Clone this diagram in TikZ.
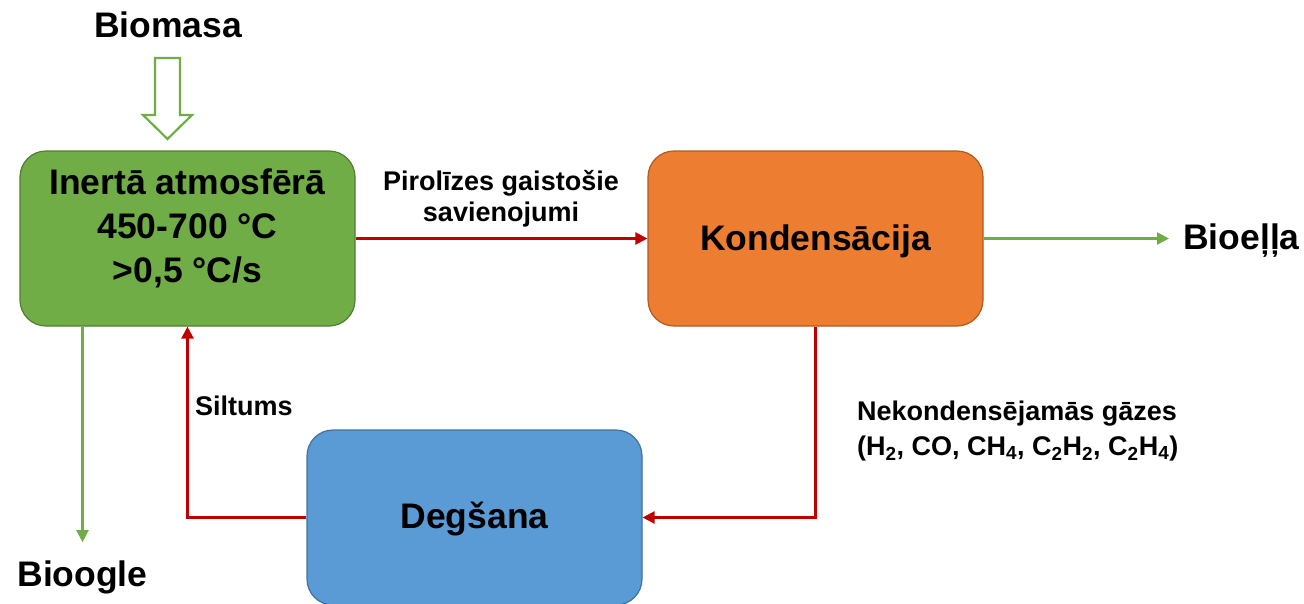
\documentclass[tikz,border=0pt]{standalone}
\usepackage{fontspec}
\setmainfont{Liberation Sans}
\usetikzlibrary{arrows.meta,calc}
\definecolor{gfill}{HTML}{70AD47}
\definecolor{gline}{HTML}{507E32}
\definecolor{ofill}{HTML}{ED7D31}
\definecolor{oline}{HTML}{AE5A21}
\definecolor{bfill}{HTML}{5B9BD5}
\definecolor{bline}{HTML}{41719C}
\definecolor{rline}{HTML}{C00000}
\begin{document}
\begin{tikzpicture}[x=1pt,y=-1pt,
  procbox/.style={draw, line width=1.2pt, rounded corners=26pt, minimum width=335pt, minimum height=175pt, inner sep=0pt},
  bigtxt/.style={font=\fontsize{35.5}{44}\selectfont\bfseries, align=center, inner sep=0pt},
  smalltxt/.style={font=\fontsize{27}{31}\selectfont\bfseries, align=center, inner sep=0pt},
  redarrow/.style={draw=rline, line width=2.4pt, -{Triangle[length=12pt,width=12pt]}},
  greenarrow/.style={draw=gfill, line width=2.4pt, -{Triangle[length=12pt,width=12pt]}}
]
\useasboundingbox (0,0) rectangle (1304,603);

% process boxes
\node[procbox, fill=gfill, draw=gline] (pyro) at (187.5,238.5) {};
\node[bigtxt] (pyrotxt) at (187.5,228) {Inertā atmosfērā\\450-700 °C\\>0,5 °C/s};
\node[procbox, fill=ofill, draw=oline] (kond) at (815.5,238.5) {};
\node[bigtxt] (kondtxt) at (815.5,241) {Kondensācija};
\node[procbox, fill=bfill, draw=bline] (degs) at (474.5,517.5) {};
\node[bigtxt] (degstxt) at (474.5,519) {Degšana};

% outside labels
\node[bigtxt] (biomasa) at (168,25) {Biomasa};
\node[bigtxt, anchor=west] (bioella) at (1183,241) {Bioeļļa};
\node[bigtxt] (bioogle) at (82.5,577) {Bioogle};
\node[smalltxt] (pirol) at (501,199) {Pirolīzes gaistošie\\savienojumi};
\node[smalltxt, anchor=west, align=left, font=\fontsize{27}{35}\selectfont\bfseries] (nekond) at (857,431) {Nekondensējamās gāzes\\(H\textsubscript{2}, CO, CH\textsubscript{4}, C\textsubscript{2}H\textsubscript{2}, C\textsubscript{2}H\textsubscript{4})};
\node[smalltxt, anchor=west] (siltums) at (195,406) {Siltums};

% hollow input arrow
\draw[draw=gfill, line width=2.2pt, fill=white, line join=miter]
  (155,58) -- (180,58) -- (180,115) -- (192,115) -- (167.5,139) -- (143,115) -- (155,115) -- cycle;

% connectors
\draw[redarrow] (pyro.east) -- (kond.west);
\draw[greenarrow] (kond.east) -- ($(kond.east -| bioella.west)+(-14,0)$);
\draw[redarrow] (kond.south) |- (degs.east);
\draw[redarrow] (degs.west) -| (pyro.south);
\draw[greenarrow] (pyro.south -| bioogle.north) -- ($(bioogle.north)+(0,-18)$);
\end{tikzpicture}
\end{document}
